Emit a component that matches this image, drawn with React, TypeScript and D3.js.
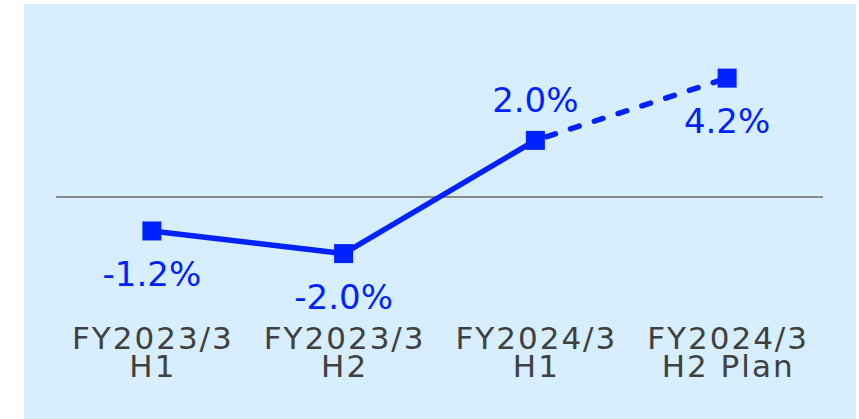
import React from "react";
import * as d3 from "d3";

const categoriesLine1 = ["FY2023/3", "FY2023/3", "FY2024/3", "FY2024/3"];
const categoriesLine2 = ["H1", "H2", "H1", "H2 Plan"];
const values = [-1.2, -2.0, 2.0, 4.2];
const valueLabels = ["-1.2%", "-2.0%", "2.0%", "4.2%"];
const labelAbove = [false, false, true, false];
const isPlan = [false, false, false, true];

const W = 859;
const H = 419;
const BLUE = "#0022ff";

export default function App() {
  const x = d3
    .scalePoint<number>()
    .domain(values.map((_, i) => i))
    .range([56, 823])
    .padding(0.5);
  const y = d3.scaleLinear().domain([-4, 6]).range([310.2, 27.2]);

  const pts = values.map((v, i) => [x(i) as number, y(v)] as [number, number]);
  const line = d3.line();
  const solidPts = pts.filter((_, i) => !isPlan[i]);
  const lastActual = solidPts.length - 1;
  const dashedPts = pts.slice(lastActual);

  return (
    <svg
      width={W}
      height={H}
      style={{ position: "absolute", left: 0, top: 0, display: "block" }}
    >
      <rect x={24} y={4} width={832} height={415} fill="#d6eefe" />
      <line x1={56} x2={823} y1={y(0)} y2={y(0)} stroke="#8a8a8a" strokeWidth={2} />
      <path d={line(solidPts) || ""} fill="none" stroke={BLUE} strokeWidth={5.5} />
      <path
        d={line(dashedPts) || ""}
        fill="none"
        stroke={BLUE}
        strokeWidth={5.5}
        strokeDasharray="9 16"
        strokeDashoffset={-12}
        strokeLinecap="round"
      />
      {pts.map(([px, py], i) => (
        <rect key={"m" + i} x={px - 9.5} y={py - 9.5} width={19} height={19} fill={BLUE} />
      ))}
      {pts.map(([px, py], i) => (
        <text
          key={"l" + i}
          x={px}
          y={labelAbove[i] ? py - 28 : py + 55}
          textAnchor="middle"
          fontFamily="DejaVu Sans"
          fontSize={34}
          fill={BLUE}
        >
          {valueLabels[i]}
        </text>
      ))}
      {categoriesLine1.map((c, i) => (
        <text
          key={"c" + i}
          textAnchor="middle"
          fontFamily="DejaVu Sans"
          fontSize={31}
          letterSpacing={2}
          fill="#404040"
        >
          <tspan x={(x(i) as number) + 1} y={349}>{c}</tspan>
          <tspan x={(x(i) as number) + 1} y={377}>{categoriesLine2[i]}</tspan>
        </text>
      ))}
    </svg>
  );
}
